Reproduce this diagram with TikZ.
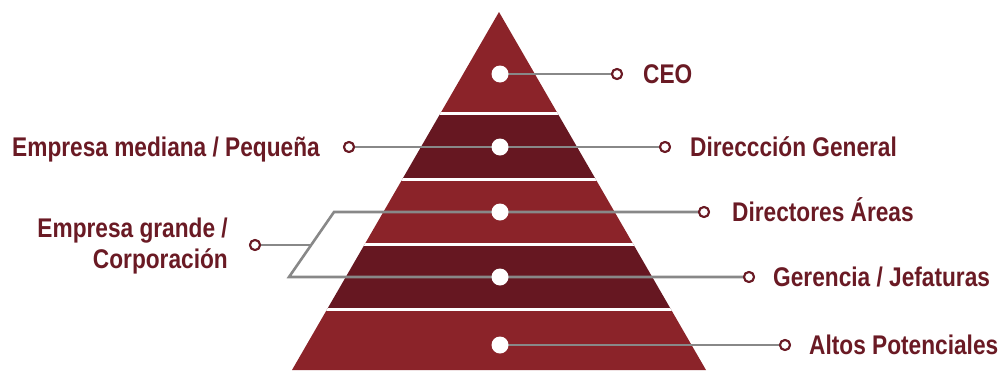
\documentclass[tikz,border=0pt]{standalone}
\usepackage{fontspec}
\setmainfont{Liberation Sans}[FakeStretch=0.84]
\definecolor{bandlight}{RGB}{139,35,41}
\definecolor{banddark}{RGB}{102,23,33}
\definecolor{txtred}{RGB}{106,26,36}
\definecolor{wire}{RGB}{136,136,136}
\tikzset{
  lbl/.style={font=\bfseries\fontsize{27}{31}\selectfont, text=txtred, inner sep=0pt},
  bigdot/.style={circle, fill=white, minimum size=17pt, inner sep=0pt},
  enddot/.style={circle, draw=txtred, line width=2pt, fill=white, minimum size=10pt, inner sep=0pt},
  wireline/.style={draw=wire, line width=2.6pt},
}
\begin{document}
\begin{tikzpicture}[x=1pt,y=-1pt]
\useasboundingbox (0,0) rectangle (1004,370);
% pyramid
\begin{scope}
\clip (499,12) -- (706,370) -- (292,370) -- cycle;
\fill[bandlight] (280,0) rectangle (720,113.5);
\fill[banddark] (280,113.5) rectangle (720,179.5);
\fill[bandlight] (280,179.5) rectangle (720,244.5);
\fill[banddark] (280,244.5) rectangle (720,309.5);
\fill[bandlight] (280,309.5) rectangle (720,372);
\foreach \yy in {113.5,179.5,244.5,309.5}
  \draw[white, line width=3pt] (280,\yy) -- (720,\yy);
\end{scope}
% centre dots (coordinates)
\coordinate (c1) at (500,74);
\coordinate (c2) at (500,147);
\coordinate (c3) at (500,212);
\coordinate (c4) at (500,277);
\coordinate (c5) at (500,345);
% end markers
\node[enddot] (e1) at (617,74) {};
\node[enddot] (e2) at (665,147) {};
\node[enddot] (e2l) at (349,147) {};
\node[enddot] (e3) at (704,212) {};
\node[enddot] (e4) at (749,277) {};
\node[enddot] (e5) at (785,345) {};
\node[enddot] (eg) at (255,245) {};
\coordinate (pt) at (334,212);
\coordinate (pb) at (289,277);
\coordinate (pm) at (311,245);
% wires
\draw[wireline] (c1) -- (e1);
\draw[wireline] (e2l) -- (e2);
\draw[wireline, line join=miter] (e3) -- (pt) -- (pb) -- (e4);
\draw[wireline] (eg) -- (pm);
\draw[wireline] (c5) -- (e5);
% redraw end markers on top
\foreach \n in {e1,e2,e2l,e3,e4,e5,eg}
  \node[enddot] at (\n) {};
% big dots
\foreach \n in {c1,c2,c3,c4,c5}
  \node[bigdot] at (\n) {};
% labels
\node[lbl, anchor=base west] (t1) at (643,83) {CEO};
\node[lbl, anchor=base west] (t2) at (690,156) {Direccción General};
\node[lbl, anchor=base east] (t2l) at (320,156) {Empresa mediana / Pequeña};
\node[lbl, anchor=base west] (t3) at (732,221) {Directores Áreas};
\node[lbl, anchor=base west] (t4) at (773,286) {Gerencia / Jefaturas};
\node[lbl, anchor=base west] (t5) at (809,354) {Altos Potenciales};
\node[lbl, anchor=base east] (tg1) at (228,237) {Empresa grande /};
\node[lbl, anchor=base east] (tg2) at (228,268) {Corporación};
\end{tikzpicture}
\end{document}
